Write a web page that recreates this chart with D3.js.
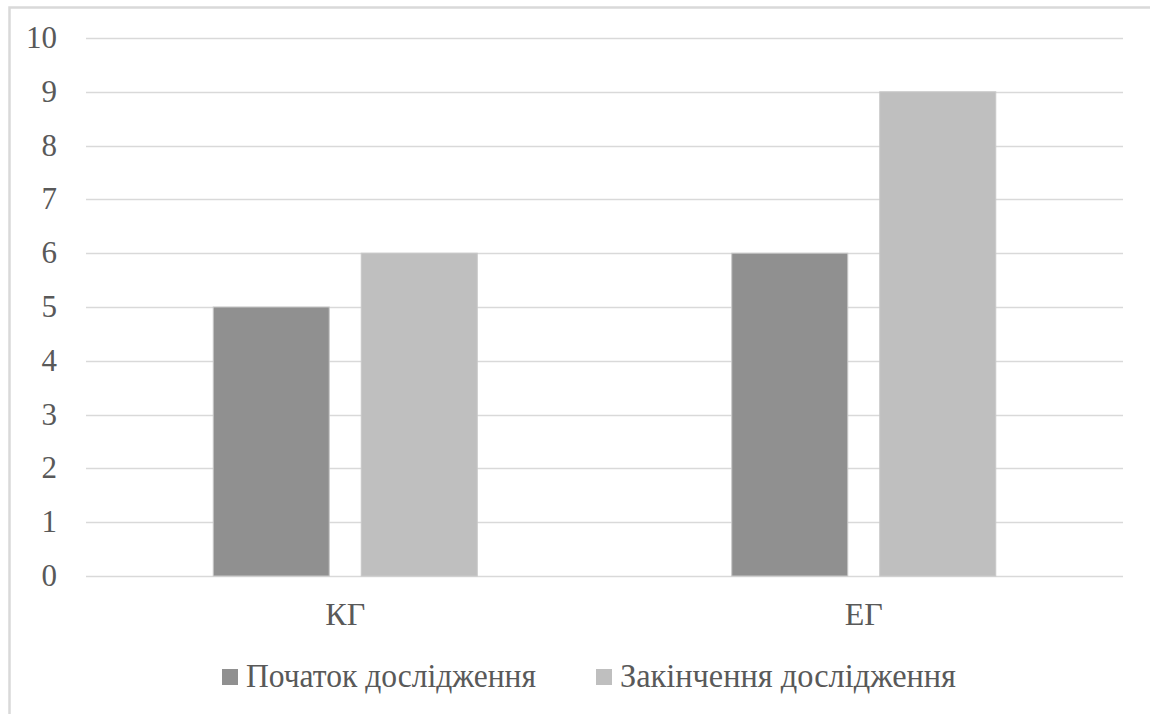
<!DOCTYPE html>
<html>
<head>
<meta charset="utf-8">
<script src="https://cdn.jsdelivr.net/npm/d3@7"></script>
</head>
<body style="margin:0;background:#fff">
<svg id="fig" width="1150" height="714" style="display:block" font-family="Liberation Serif"></svg>
<script>
// Data
const categories = ["КГ", "ЕГ"];
const seriesNames = ["Початок дослідження", "Закінчення дослідження"];
const startValues = [5, 6];
const endValues = [6, 9];
const yTicks = [0, 1, 2, 3, 4, 5, 6, 7, 8, 9, 10];
const seriesColors = ["#909090", "#bfbfbf"];

const FONT = "'Liberation Serif', Tinos, FreeSerif, 'Times New Roman', serif";
const TEXT_COLOR = "#595959";

const svg = d3.select("#fig");
const W = 1150, H = 714;
const plot = { left: 86, right: 1123, top: 38, bottom: 576 };

// Outer chart frame (continues past the right and bottom edge)
svg.append("rect")
  .attr("x", 9.5).attr("y", 7.5)
  .attr("width", W + 20).attr("height", H + 20)
  .attr("fill", "none").attr("stroke", "#d9d9d9").attr("stroke-width", 2.5);

const x0 = d3.scaleBand().domain(categories).range([plot.left, plot.right]);
const y = d3.scaleLinear().domain([0, 10]).range([plot.bottom, plot.top]);

// Gridlines
svg.append("g")
  .selectAll("line")
  .data(yTicks)
  .join("line")
  .attr("x1", plot.left).attr("x2", plot.right)
  .attr("y1", d => Math.round(y(d)) + 0.5).attr("y2", d => Math.round(y(d)) + 0.5)
  .attr("stroke", "#d9d9d9").attr("stroke-width", 1.3);

// Y axis labels
svg.append("g")
  .selectAll("text")
  .data(yTicks)
  .join("text")
  .attr("x", 57)
  .attr("y", d => y(d))
  .attr("dy", "0.32em")
  .attr("text-anchor", "end")
  .attr("fill", TEXT_COLOR)
  .attr("font-family", "Liberation Serif")
  .style("font-family", FONT)
  .style("font-size", "31px")
  .text(d => d);

// Bars: two series per category
const barW = 116, barGap = 32;
const x1 = d3.scaleBand().domain(seriesNames)
  .range([0, barW * 2 + barGap]).paddingInner(barGap / (barW + barGap)).paddingOuter(0);
const groupOffset = (x0.bandwidth() - (barW * 2 + barGap)) / 2;

const rows = categories.map((c, i) => ({
  cat: c,
  vals: [
    { s: seriesNames[0], v: startValues[i], color: seriesColors[0] },
    { s: seriesNames[1], v: endValues[i], color: seriesColors[1] }
  ]
}));

svg.append("g")
  .selectAll("g")
  .data(rows)
  .join("g")
  .attr("transform", d => `translate(${x0(d.cat) + groupOffset},0)`)
  .selectAll("rect")
  .data(d => d.vals)
  .join("rect")
  .attr("x", d => x1(d.s))
  .attr("y", d => y(d.v))
  .attr("width", x1.bandwidth())
  .attr("height", d => y(0) - y(d.v))
  .attr("fill", d => d.color)
  .attr("stroke", "#c8c8c8")
  .attr("stroke-width", 1);

// Category labels
svg.append("g")
  .selectAll("text")
  .data(categories)
  .join("text")
  .attr("x", d => x0(d) + x0.bandwidth() / 2)
  .attr("y", plot.bottom + 49)
  .attr("text-anchor", "middle")
  .attr("fill", TEXT_COLOR)
  .attr("font-family", "Liberation Serif")
  .style("font-family", FONT)
  .style("font-size", "32px")
  .text(d => d);

// Legend
const legendItems = [
  { name: seriesNames[0], color: seriesColors[0], x: 222, len: 290 },
  { name: seriesNames[1], color: seriesColors[1], x: 596, len: 336 }
];
const lg = svg.append("g")
  .selectAll("g").data(legendItems).join("g")
  .attr("transform", d => `translate(${d.x},0)`);
lg.append("rect")
  .attr("x", 0).attr("y", 669).attr("width", 16).attr("height", 16)
  .attr("fill", d => d.color);
lg.append("text")
  .attr("x", 24).attr("y", 687)
  .attr("fill", TEXT_COLOR)
  .attr("font-family", "Liberation Serif")
  .style("font-family", FONT)
  .style("font-size", "33px")
  .attr("textLength", d => d.len)
  .attr("lengthAdjust", "spacingAndGlyphs")
  .text(d => d.name);
</script>
</body>
</html>
